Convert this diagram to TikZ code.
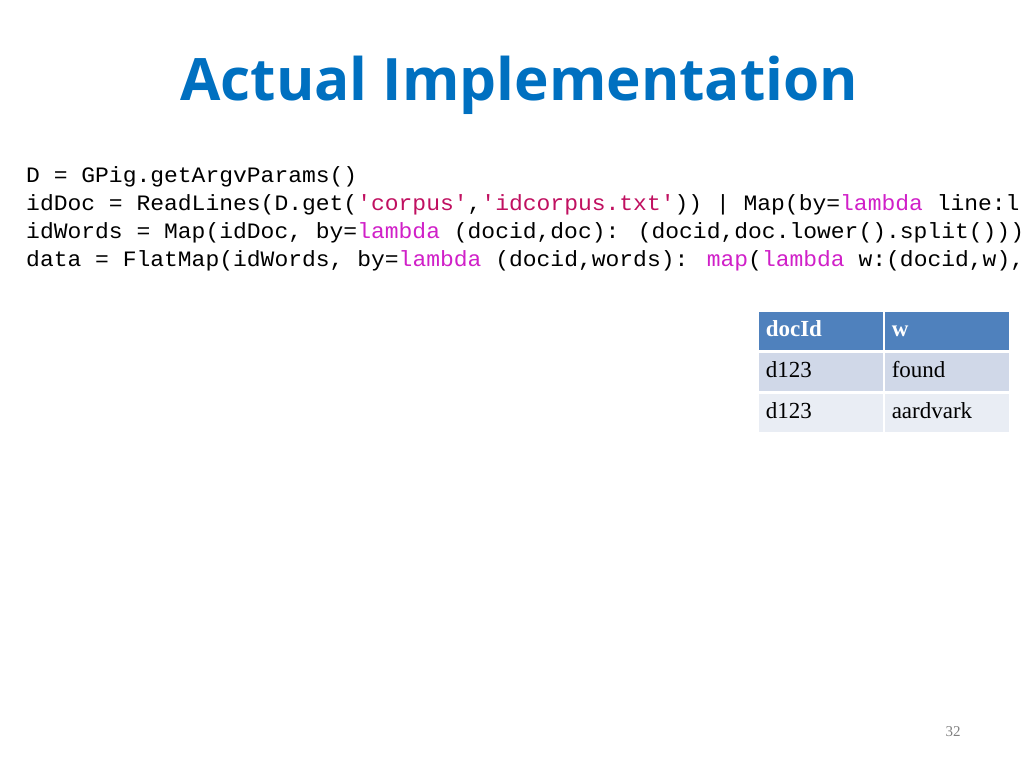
\documentclass[tikz,border=0pt]{standalone}
\usepackage{fontspec}
\setmainfont{Liberation Serif}
\newfontfamily\titlefont{Open Sans}
\newfontfamily\codefont{Liberation Mono}
\begin{document}
\begin{tikzpicture}[x=1pt,y=-1pt,
  code/.style={anchor=west,inner sep=0pt,xscale=1.045,font=\codefont\fontsize{22}{22}\selectfont},
  hdr/.style={fill=hdrc,draw=white,line width=1.5pt,minimum width=126pt,minimum height=40pt,anchor=north west,text=white,font=\bfseries\fontsize{23}{23}\selectfont,text width=110pt,align=left,text height=16pt,text depth=5pt},
  cellA/.style={hdr,fill=rowa,text=black,font=\fontsize{23}{23}\selectfont},
  cellB/.style={cellA,fill=rowb}]
\definecolor{hdrc}{HTML}{4F81BD}
\definecolor{rowa}{HTML}{D0D8E8}
\definecolor{rowb}{HTML}{E9EDF4}
\definecolor{titc}{HTML}{0070C0}
\definecolor{kw}{HTML}{D020C8}
\definecolor{str}{HTML}{C01060}
\useasboundingbox (0,0) rectangle (1024,768);
\clip (0,0) rectangle (1024,768);
\node[anchor=west,inner sep=0pt,text=titc,font=\titlefont\bfseries\fontsize{58.5}{58.5}\selectfont] (title) at (180,85) {Actual Implementation};
\node[code] (l1) at (26,177) {D = GPig.getArgvParams()};
\node[code] (l2) at (26,205) {idDoc = ReadLines(D.get(\textcolor{str}{'corpus'},\textcolor{str}{'idcorpus.txt'})) | Map(by=\textcolor{kw}{lambda} line:l};
\node[code] (l3) at (26,233) {idWords = Map(idDoc, by=\textcolor{kw}{lambda} (docid,doc): (docid,doc.lower().split()))};
\node[code] (l4) at (26,261) {data = FlatMap(idWords, by=\textcolor{kw}{lambda} (docid,words): \textcolor{kw}{map}(\textcolor{kw}{lambda} w:(docid,w),};
\node[hdr] (h1) at (757,310) {docId};
\node[hdr] (h2) at (883,310) {w};
\node[cellA] (a1) at (757,351) {d123};
\node[cellA] (a2) at (883,351) {found};
\node[cellB] (b1) at (757,392) {d123};
\node[cellB] (b2) at (883,392) {aardvark};
\node[text=gray,font=\fontsize{15}{15}\selectfont] (pg) at (953,732) {32};
\end{tikzpicture}
\end{document}
